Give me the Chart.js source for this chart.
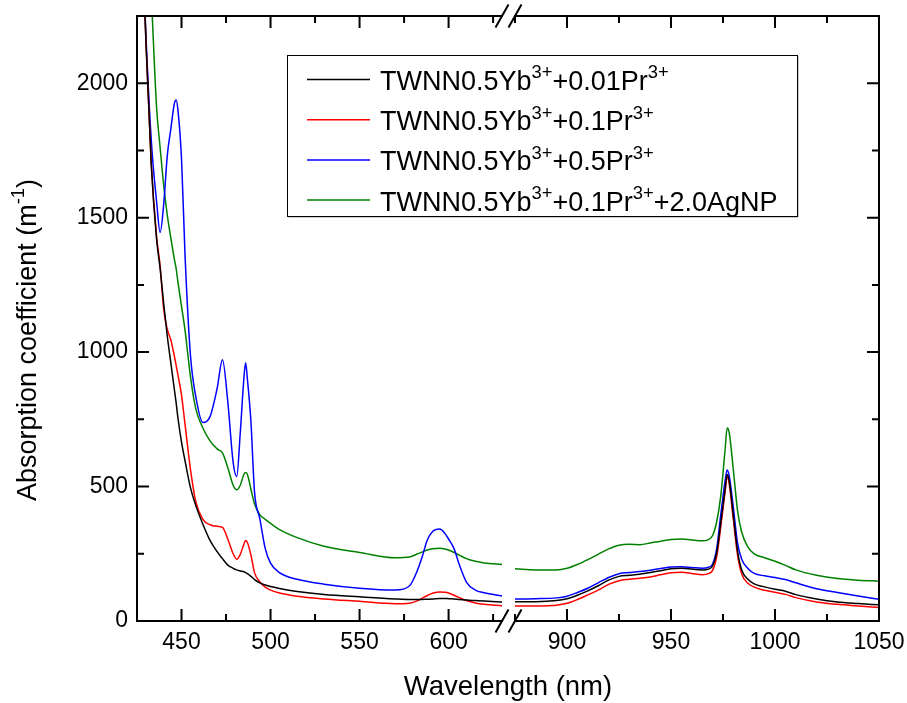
<!DOCTYPE html>
<html>
<head>
<meta charset="utf-8">
<script src="https://cdn.jsdelivr.net/npm/chart.js@4/dist/chart.umd.min.js"></script>
<style>
  html, body { margin: 0; padding: 0; background: #fff; }
  canvas { display: block; }
</style>
</head>
<body>
<canvas id="chart" width="907" height="703" style="width:907px;height:703px"></canvas>
<script>
// Wavelengths (nm), left part of the broken axis and right part
const waveLeft = [427, 430, 433, 436, 438, 440, 442, 444, 446, 447, 448, 450, 452, 455, 458, 462, 466, 470, 473, 476,
  479, 481, 483, 485, 486, 487, 489, 491, 494, 497, 500, 505, 515, 530, 550, 570, 578, 582, 585, 588,
  591, 595, 598, 600, 603, 606, 610, 615, 620, 630];
const waveRight = [875, 885, 895, 900, 905, 910, 915, 920, 925, 930, 935, 940, 945, 950, 955, 960, 965, 968, 970, 972,
  974, 976, 977, 978, 980, 982, 984, 987, 990, 995, 1000, 1005, 1010, 1020, 1030, 1040, 1050];

// Absorption coefficient (m-1)
const pr001Left = [2700, 2160, 1700, 1420, 1310, 1180, 1060, 960, 860, 810, 755, 665, 595, 497, 430, 360, 300, 258, 232, 208,
  196, 190, 186, 183, 180, 176, 166, 154, 142, 134, 128, 121, 110, 99, 90, 82, 80, 80, 80, 81,
  82, 84, 84, 83, 82, 80, 78, 76, 74, 71];
const pr01Left = [2700, 2160, 1700, 1430, 1320, 1160, 1085, 1045, 985, 950, 915, 840, 730, 565, 445, 378, 358, 352, 348, 305,
  250, 230, 248, 285, 299, 292, 245, 180, 145, 126, 115, 104, 92, 82, 73, 64, 66, 74, 84, 95,
  103, 108, 107, 104, 96, 87, 76, 67, 62, 57];
const pr05Left = [2700, 2180, 1790, 1560, 1445, 1550, 1730, 1830, 1925, 1938, 1900, 1720, 1357, 990, 835, 738, 760, 865, 972, 815,
  590, 537, 700, 900, 960, 900, 740, 480, 380, 270, 215, 180, 155, 137, 122, 115, 130, 180, 235, 300,
  333, 342, 325, 305, 270, 210, 145, 115, 105, 93];
const agnpLeft = [3000, 2700, 2330, 1910, 1760, 1620, 1510, 1425, 1345, 1310, 1260, 1170, 1080, 910, 790, 718, 670, 640, 625, 570,
  505, 488, 505, 545, 552, 545, 490, 435, 395, 378, 363, 340, 310, 278, 255, 235, 238, 248, 256, 264,
  269, 271, 268, 264, 255, 245, 232, 222, 216, 210];

const pr001Right = [72, 72, 76, 83, 96, 112, 131, 152, 166, 170, 174, 180, 187, 194, 196, 193, 190, 193, 205, 255,
  370, 490, 545, 520, 390, 260, 190, 155, 138, 127, 118, 111, 98, 82, 71, 65, 60];
const pr01Right = [56, 56, 59, 66, 80, 97, 115, 136, 150, 155, 159, 164, 172, 179, 181, 177, 172, 176, 188, 240,
  355, 480, 537, 510, 375, 245, 175, 140, 126, 114, 107, 99, 87, 71, 62, 56, 50];
const pr05Right = [82, 83, 86, 92, 106, 122, 142, 162, 176, 180, 184, 189, 195, 201, 202, 199, 196, 200, 212, 270,
  400, 520, 562, 540, 420, 290, 230, 195, 177, 168, 162, 154, 142, 120, 106, 93, 81];
const agnpRight = [194, 190, 190, 196, 210, 228, 248, 268, 282, 285, 284, 290, 297, 303, 305, 301, 298, 303, 318, 370,
  470, 637, 718, 700, 560, 410, 330, 275, 250, 235, 222, 207, 190, 170, 158, 152, 148];

const seriesLabels = [
  'TWNN0.5Yb^{3+}+0.01Pr^{3+}',
  'TWNN0.5Yb^{3+}+0.1Pr^{3+}',
  'TWNN0.5Yb^{3+}+0.5Pr^{3+}',
  'TWNN0.5Yb^{3+}+0.1Pr^{3+}+2.0AgNP'
];
const seriesColors = ['#000000', '#ff0000', '#0000ff', '#008000'];

// Tick marks
const xMajorLeft = [450, 500, 550, 600];
const xMinorLeft = [475, 525, 575, 625];
const xMajorRight = [900, 950, 1000, 1050];
const xMinorRight = [875, 925, 975, 1025];
const yMajor = [0, 500, 1000, 1500, 2000];
const yMinor = [250, 750, 1250, 1750];

const FONT = '"Liberation Sans", Arial, Helvetica, sans-serif';

// broken axis: 425-630 on the left, 875-1050 on the right
const LEFT_FROM = 425, LEFT_TO = 630, RIGHT_FROM = 875, RIGHT_TO = 1050;
const LEFT_W = 365, GAP_W = 13, RIGHT_W = 364;
function toAxis(nm) {
  if (nm <= LEFT_TO) return (nm - LEFT_FROM) * LEFT_W / (LEFT_TO - LEFT_FROM);
  return LEFT_W + GAP_W + (nm - RIGHT_FROM) * RIGHT_W / (RIGHT_TO - RIGHT_FROM);
}

function buildData(left, right) {
  const pts = waveLeft.map((w, i) => ({ x: toAxis(w), y: left[i] }));
  pts.push({ x: LEFT_W + GAP_W / 2, y: null }); // trou de la coupure
  waveRight.forEach((w, i) => pts.push({ x: toAxis(w), y: right[i] }));
  return pts;
}

const lefts = [pr001Left, pr01Left, pr05Left, agnpLeft];
const rights = [pr001Right, pr01Right, pr05Right, agnpRight];
const datasets = seriesLabels.map((lab, i) => ({
  label: lab,
  data: buildData(lefts[i], rights[i]),
  borderColor: seriesColors[i],
  borderWidth: 1.5,
  pointRadius: 0,
  cubicInterpolationMode: 'monotone',
  spanGaps: false
}));

// texte avec exposants: 'A^{3+}'
function parseRich(s) {
  const parts = [];
  const re = /\^\{([^}]*)\}/g;
  let last = 0, m;
  while ((m = re.exec(s))) {
    if (m.index > last) parts.push({ t: s.slice(last, m.index) });
    parts.push({ t: m[1], sup: true });
    last = re.lastIndex;
  }
  if (last < s.length) parts.push({ t: s.slice(last) });
  return parts;
}
function richWidth(ctx, s, size) {
  let w = 0;
  parseRich(s).forEach(p => {
    ctx.font = (p.sup ? size * 0.68 : size) + 'px ' + FONT;
    w += ctx.measureText(p.t).width;
  });
  return w;
}
function drawRich(ctx, s, x, y, size) {
  let cx = x;
  ctx.textAlign = 'left';
  ctx.textBaseline = 'alphabetic';
  parseRich(s).forEach(p => {
    ctx.font = (p.sup ? size * 0.68 : size) + 'px ' + FONT;
    ctx.fillText(p.t, cx, p.sup ? y - size * 0.43 : y);
    cx += ctx.measureText(p.t).width;
  });
}

// pas de marge auto autour des axes
function noPad(s) {
  s.paddingLeft = 0; s.paddingRight = 0; s.paddingTop = 0; s.paddingBottom = 0;
}

const framePlugin = {
  id: 'frame',
  afterDatasetsDraw(chart) {
    const { ctx, chartArea: a, scales: { x, y } } = chart;
    const b1 = x.getPixelForValue(toAxis(LEFT_TO));
    const b2 = x.getPixelForValue(toAxis(RIGHT_FROM));
    ctx.save();
    ctx.strokeStyle = '#000';
    ctx.lineWidth = 2;
    ctx.lineCap = 'square';
    ctx.beginPath();
    // left and right axes
    ctx.moveTo(a.left, a.top); ctx.lineTo(a.left, a.bottom);
    ctx.moveTo(a.right, a.top); ctx.lineTo(a.right, a.bottom);
    // top and bottom, cut at the break
    [a.top, a.bottom].forEach(yy => {
      ctx.moveTo(a.left, yy); ctx.lineTo(b1, yy);
      ctx.moveTo(b2, yy); ctx.lineTo(a.right, yy);
    });
    ctx.stroke();

    ctx.lineCap = 'butt';
    ctx.beginPath();
    x.ticks.forEach(t => {
      const px = x.getPixelForValue(t.value);
      const len = t.big ? 12 : 7;
      ctx.moveTo(px, a.bottom); ctx.lineTo(px, a.bottom - len);
      ctx.moveTo(px, a.top); ctx.lineTo(px, a.top + len);
    });
    y.ticks.forEach(t => {
      const py = y.getPixelForValue(t.value);
      const len = t.big ? 12 : 7;
      ctx.moveTo(a.left, py); ctx.lineTo(a.left + len, py);
      ctx.moveTo(a.right, py); ctx.lineTo(a.right - len, py);
    });
    ctx.stroke();

    // break marks //
    ctx.beginPath();
    [a.top, a.bottom].forEach(yy => {
      [b1, b2].forEach(bx => {
        ctx.moveTo(bx - 6.5, yy + 11.5);
        ctx.lineTo(bx + 6.5, yy - 11.5);
      });
    });
    ctx.stroke();
    ctx.restore();
  },
  afterDraw(chart) {
    const { ctx, chartArea: a } = chart;
    ctx.save();
    ctx.fillStyle = '#000';

    // axis titles
    ctx.font = '27.5px ' + FONT;
    ctx.textAlign = 'center';
    ctx.textBaseline = 'alphabetic';
    ctx.fillText('Wavelength (nm)', (a.left + a.right) / 2, 695);

    const yt = 'Absorption coefficient (m^{-1})';
    ctx.translate(36, 340);
    ctx.rotate(-Math.PI / 2);
    drawRich(ctx, yt, -richWidth(ctx, yt, 27) / 2, 0, 27);
    ctx.setTransform(1, 0, 0, 1, 0, 0);

    // legend
    const bx = 287, by = 55, bw = 510, bh = 161;
    ctx.fillStyle = '#fff';
    ctx.fillRect(bx, by, bw, bh);
    ctx.strokeStyle = '#999';
    ctx.lineWidth = 1;
    ctx.beginPath();
    ctx.moveTo(bx + 1.5, by + bh + 1); ctx.lineTo(bx + bw + 1, by + bh + 1); ctx.lineTo(bx + bw + 1, by + 1.5);
    ctx.stroke();
    ctx.strokeStyle = '#000';
    ctx.strokeRect(bx + 0.5, by + 0.5, bw, bh);
    seriesLabels.forEach((lab, i) => {
      const ly = 79.5 + i * 40.2;
      ctx.strokeStyle = seriesColors[i];
      ctx.lineWidth = 1.5;
      ctx.beginPath();
      ctx.moveTo(307, ly); ctx.lineTo(370, ly);
      ctx.stroke();
      ctx.fillStyle = '#000';
      drawRich(ctx, lab, 380, ly + 10.5, 27);
    });
    ctx.restore();
  }
};

const tickFont = { family: FONT, size: 23 };

new Chart(document.getElementById('chart').getContext('2d'), {
  type: 'line',
  data: { datasets },
  options: {
    responsive: false,
    animation: false,
    layout: { padding: { top: 16, right: 28, left: 0, bottom: 0 } },
    plugins: { legend: { display: false }, tooltip: { enabled: false } },
    scales: {
      x: {
        type: 'linear',
        min: 0,
        max: toAxis(RIGHT_TO),
        grid: { display: false, drawTicks: false },
        border: { display: false },
        afterBuildTicks: s => {
          const list = [];
          xMajorLeft.concat(xMajorRight).forEach(w => list.push({ value: toAxis(w), lab: String(w), big: true }));
          xMinorLeft.concat(xMinorRight).forEach(w => list.push({ value: toAxis(w), lab: '', big: false }));
          list.sort((p, q) => p.value - q.value);
          s.ticks = list;
        },
        afterFit: s => { s.height = 82; noPad(s); },
        ticks: {
          autoSkip: false, maxRotation: 0, minRotation: 0,
          font: tickFont, color: '#000', padding: 8,
          callback: (v, i, ticks) => ticks[i].lab
        }
      },
      y: {
        min: 0,
        max: 2250,
        grid: { display: false, drawTicks: false },
        border: { display: false },
        afterBuildTicks: s => {
          const list = [];
          yMajor.forEach(v => list.push({ value: v, lab: String(v), big: true }));
          yMinor.forEach(v => list.push({ value: v, lab: '', big: false }));
          list.sort((p, q) => p.value - q.value);
          s.ticks = list;
        },
        afterFit: s => { s.width = 137; noPad(s); },
        ticks: {
          autoSkip: false,
          font: tickFont, color: '#000', padding: 9,
          callback: (v, i, ticks) => ticks[i].lab
        }
      }
    }
  },
  plugins: [framePlugin]
});
</script>
</body>
</html>
